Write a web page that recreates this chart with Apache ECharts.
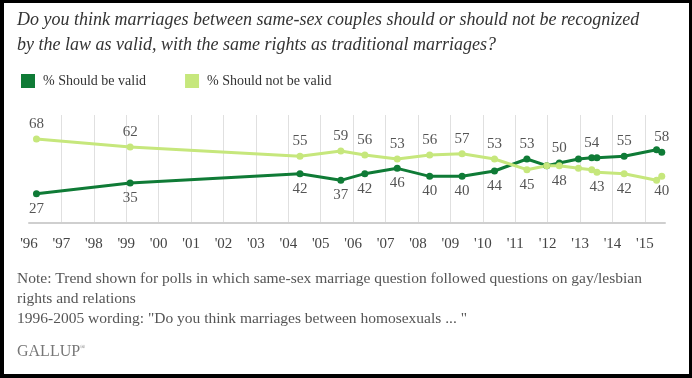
<!DOCTYPE html>
<html>
<head>
<meta charset="utf-8">
<script src="https://cdn.jsdelivr.net/npm/echarts@6/dist/echarts.min.js"></script>
<style>
  html, body { margin: 0; padding: 0; background: #000; }
  #frame { position: absolute; left: 4px; top: 3px; width: 685px; height: 371px; background: #fff; }
  #chart { position: absolute; left: -4px; top: -3px; width: 692px; height: 378px; }
</style>
</head>
<body>
<div id="frame"><div id="chart"></div></div>
<script>
// ---- data ----
const pollDates = [1996.23, 1999.12, 2004.36, 2005.62, 2006.36, 2007.36, 2008.36, 2009.36, 2010.36,
                   2011.36, 2011.97, 2012.36, 2012.95, 2013.36, 2013.52, 2014.36, 2015.36, 2015.52];
const shouldBeValid =    [27, 35, 42, 37, 42, 46, 40, 40, 44, 53, 48, 50, 53, 54, 54, 55, 60, 58];
const shouldNotBeValid = [68, 62, 55, 59, 56, 53, 56, 57, 53, 45, 48, 48, 46, 45, 43, 42, 37, 40];
const validLabeled =     [1, 1, 1, 1, 1, 1, 1, 1, 1, 1, 0, 1, 0, 1, 0, 1, 0, 1];
const notValidLabeled =  [1, 1, 1, 1, 1, 1, 1, 1, 1, 1, 0, 1, 0, 0, 1, 1, 0, 1];
const yearTickLabels = ["'96","'97","'98","'99","'00","'01","'02","'03","'04","'05",
                        "'06","'07","'08","'09","'10","'11","'12","'13","'14","'15"];
const seriesNames = ['% Should be valid', '% Should not be valid'];
const titleLines = [
  'Do you think marriages between same-sex couples should or should not be recognized',
  'by the law as valid, with the same rights as traditional marriages?'
];
const noteLines = [
  'Note: Trend shown for polls in which same-sex marriage question followed questions on gay/lesbian',
  'rights and relations',
  '1996-2005 wording: "Do you think marriages between homosexuals ... "'
];

const DARK = '#0f7b36';
const LIGHT = '#c6e77c';
const SERIF = 'Liberation Serif';

function buildData(vals, others, labeled) {
  return vals.map((v, i) => ({
    value: [pollDates[i], v],
    label: { show: !!labeled[i], position: v < others[i] ? 'bottom' : 'top' }
  }));
}

const chart = echarts.init(document.getElementById('chart'), null, { renderer: 'canvas' });

const graphics = [];
titleLines.forEach((t, i) => {
  graphics.push({ type: 'text', left: 17, top: 11 + i * 25,
    style: { text: t, fontFamily: SERIF, fontStyle: 'italic', fontSize: 18, fill: '#333' } });
});
noteLines.forEach((t, i) => {
  graphics.push({ type: 'text', left: 17, top: 271 + i * 20,
    style: { text: t, fontFamily: SERIF, fontSize: 15.5, fill: '#555' } });
});
graphics.push({ type: 'text', left: 17, top: 344,
  style: { text: '{a|GALLUP}{b|®}', fontFamily: SERIF, fontSize: 16, fill: '#777',
    rich: { a: { fontFamily: SERIF, fontSize: 16, fill: '#777' },
            b: { fontFamily: SERIF, fontSize: 7, fill: '#777', verticalAlign: 'top' } } } });

chart.setOption({
  animation: false,
  backgroundColor: 'transparent',
  graphic: graphics,
  legend: {
    left: 16, top: 69,
    itemWidth: 14, itemHeight: 14, itemGap: 39,
    icon: 'rect',
    data: seriesNames,
    textStyle: { fontFamily: SERIF, fontSize: 14, color: '#333', padding: [0, 0, 0, 3] }
  },
  grid: { left: 29, right: 27, top: 115, height: 108 },
  xAxis: {
    type: 'value',
    min: 1996, max: 2015.62, interval: 1,
    axisLine: { show: true, lineStyle: { color: '#cfcfcf', width: 2 } },
    axisTick: { show: false },
    axisLabel: {
      margin: 14,
      fontFamily: SERIF, fontSize: 15, color: '#444',
      formatter: v => (Number.isInteger(v) ? (yearTickLabels[v - 1996] || '') : '')
    },
    splitLine: { show: true, showMinLine: false, showMaxLine: false,
      lineStyle: { color: '#e0e0e0', width: 1 } }
  },
  yAxis: {
    type: 'value', min: 5, max: 86,
    show: false, splitLine: { show: false }
  },
  series: [
    {
      name: seriesNames[0], type: 'line',
      data: buildData(shouldBeValid, shouldNotBeValid, validLabeled),
      color: DARK,
      lineStyle: { width: 3, color: DARK },
      itemStyle: { color: DARK },
      symbol: 'circle', symbolSize: 7, showAllSymbol: true,
      label: { distance: 4, fontFamily: SERIF, fontSize: 15, color: '#555' }
    },
    {
      name: seriesNames[1], type: 'line',
      data: buildData(shouldNotBeValid, shouldBeValid, notValidLabeled),
      color: LIGHT,
      lineStyle: { width: 3, color: LIGHT },
      itemStyle: { color: LIGHT },
      symbol: 'circle', symbolSize: 7, showAllSymbol: true,
      label: { distance: 4, fontFamily: SERIF, fontSize: 15, color: '#555' }
    }
  ]
});
</script>
</body>
</html>
